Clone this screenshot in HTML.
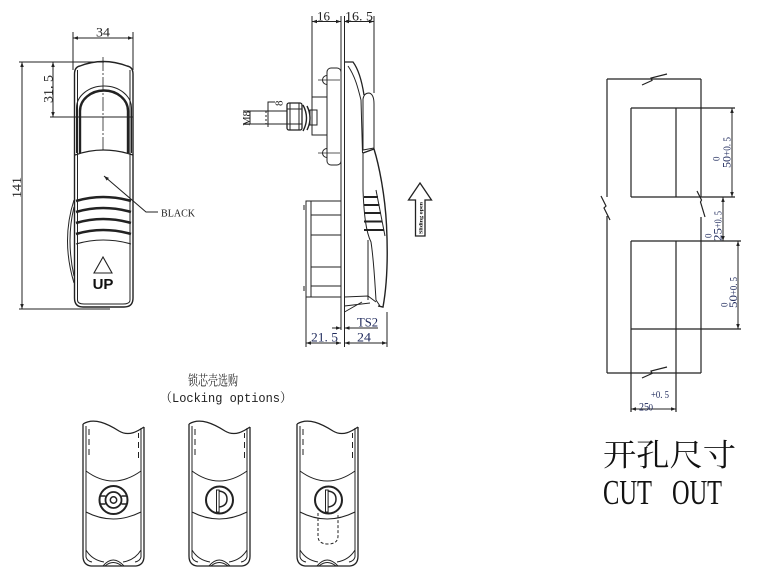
<!DOCTYPE html>
<html><head><meta charset="utf-8"><style>
html,body{margin:0;padding:0;background:#fff;}
svg{display:block;}
text{font-family:"Liberation Serif","Noto Serif CJK SC",serif;}
</style></head><body>
<svg width="758" height="576" viewBox="0 0 758 576" xmlns="http://www.w3.org/2000/svg">
<defs>
<marker id="ar" viewBox="0 0 10 10" refX="10" refY="5" markerWidth="6" markerHeight="5" orient="auto-start-reverse" markerUnits="userSpaceOnUse"><path d="M0,1.5 L10,5 L0,8.5 z" fill="#222"/></marker>
<g id="hd" fill="none" stroke="#222" stroke-width="1">
  <path d="M83,424 L83,556 Q83,565 91,566 L136,566 Q144,565 144,556 L144,427" stroke-width="1.3"/>
  <path d="M86,426 L86,557 Q87,561 92,562 M141,428 L141,557 Q140,561 135,562"/>
  <path d="M83,424 C94,417 108,424 119,431 C129,437 138,431 144,427" stroke-width="1.2"/>
  <path d="M89,429 V435 M89,439 V445 M89,449 V455 M138.5,433 V438 M138.5,442 V448 M138.5,452 V458"/>
  <path d="M86,471 Q113,491 141,471"/>
  <path d="M86,512 Q113,526 141,512"/>
  <path d="M103,566 Q113,554 124,566 M105,566 Q113,559 122,566"/>
  <path d="M86,550 Q92,560 104,562 M141,550 Q135,560 123,562"/>
</g>
</defs>

<!-- ============ FRONT VIEW ============ -->
<g fill="none" stroke="#222" stroke-width="1">
  <line x1="73" y1="32" x2="73" y2="70"/>
  <line x1="133" y1="32" x2="133" y2="70"/>
  <line x1="73" y1="38" x2="133" y2="38" marker-start="url(#ar)" marker-end="url(#ar)"/>
  <line x1="19" y1="62" x2="104" y2="62"/>
  <line x1="19" y1="309" x2="110" y2="309"/>
  <line x1="22" y1="62" x2="22" y2="309" marker-start="url(#ar)" marker-end="url(#ar)"/>
  <line x1="53" y1="62" x2="53" y2="117" marker-start="url(#ar)" marker-end="url(#ar)"/>
  <line x1="50" y1="117" x2="133" y2="117"/>
  <line x1="103" y1="57" x2="103" y2="150" stroke-width="0.8" stroke-dasharray="14,2,2,2"/>

  <path d="M74.5,74 Q74.5,67 80,66 Q103,57 127,66 Q133,67 133,74 L133,298 Q133,307 124,307 L83,307 Q74.5,307 74.5,298 Z" stroke-width="1.4"/>
  <path d="M77.5,70 L77.5,300 Q77.5,304 84,304 L123,304 Q130,304 130,300 L130,70"/>
  <path d="M76.5,153 L76.5,108 A27.5,22 0 0 1 131.5,108 L131.5,153"/>
  <path d="M80,153 L80,111 A24,20.5 0 0 1 128,111 L128,153" stroke-width="2.4"/>
  <path d="M75,155 Q103,145 133,155" stroke-width="1.2"/>
  <path d="M76,201 Q103,193 131,201" stroke-width="2.6"/>
  <path d="M76,212 Q103,204 131,212" stroke-width="2.6"/>
  <path d="M76,223 Q103,215 131,223" stroke-width="2.6"/>
  <path d="M76,234 Q103,226 131,234" stroke-width="2.6"/>
  <path d="M76,244 Q103,236 131,244"/>
  <path d="M74,200 Q61,240 74,283"/>
  <path d="M74,207 Q66,240 74,276"/>
  <polygon points="103,257 94,273 112,273" stroke-width="1.1"/>
  <polyline points="104,176 146,212 158,212" marker-start="url(#ar)"/>
</g>
<text x="96" y="36.5" font-size="13" fill="#222" textLength="14" lengthAdjust="spacingAndGlyphs">34</text>
<text transform="translate(21,198) rotate(-90)" font-size="13" fill="#222" textLength="21" lengthAdjust="spacingAndGlyphs">141</text>
<text transform="translate(52.5,103) rotate(-90)" font-size="13" fill="#222" textLength="28" lengthAdjust="spacingAndGlyphs">31. 5</text>
<text x="161" y="216.5" font-size="11" fill="#222" textLength="34" lengthAdjust="spacingAndGlyphs">BLACK</text>
<text x="103" y="289" font-size="15" font-weight="bold" text-anchor="middle" fill="#111" style="font-family:'Liberation Sans',sans-serif">UP</text>

<!-- ============ SIDE VIEW ============ -->
<g fill="none" stroke="#222" stroke-width="1">
  <line x1="312" y1="16" x2="312" y2="97"/>
  <line x1="374" y1="16" x2="374" y2="93"/>
  <line x1="312" y1="21.5" x2="341" y2="21.5" marker-start="url(#ar)" marker-end="url(#ar)"/>
  <line x1="344" y1="21.5" x2="374" y2="21.5" marker-start="url(#ar)" marker-end="url(#ar)"/>
  <line x1="341" y1="16" x2="341" y2="330"/>
  <line x1="344.5" y1="16" x2="344.5" y2="347"/>
  <!-- boss -->
  <rect x="327" y="68" width="14" height="97" rx="4"/>
  <path d="M327,75.5 A4.5,4.5 0 0 0 327,84.5 M327,148.5 A4.5,4.5 0 0 0 327,157.5"/>
  <line x1="318" y1="80" x2="340" y2="80" stroke-width="0.8"/>
  <line x1="318" y1="153" x2="340" y2="153" stroke-width="0.8"/>
  <!-- stem -->
  <rect x="312" y="97" width="15" height="38"/>
  <rect x="310" y="110" width="7" height="15"/>
  <path d="M303,105 Q310,118 303,131 M307,106 Q313,118 307,130" stroke-width="1.4"/>
  <rect x="287" y="103" width="15" height="27" rx="2" stroke-width="1.3"/>
  <path d="M290,103 V130 M299,103 V130 M287,109 H302 M287,124 H302"/>
  <rect x="250" y="111" width="37" height="13"/>
  <line x1="266" y1="111" x2="266" y2="124" stroke-dasharray="2,2"/>
  <line x1="243" y1="111" x2="250" y2="111"/>
  <line x1="243" y1="124" x2="250" y2="124"/>
  <path d="M268,127 V102 H275"/>
  <!-- upper handle -->
  <path d="M344.5,62 L353,62 C359,70 362,82 364,95" stroke-width="1.3"/>
  <path d="M348,66 C355,76 358,88 361,100 L362.5,153"/>
  <path d="M363,150 L363,99 Q364,93 369,93 Q374,94 374,104 L374,148 Z"/>
  <!-- grip -->
  <path d="M363,153 L374,149 C379,165 385,195 386.5,225 C388,255 387,285 383,307 L378,306" stroke-width="1.4"/>
  <path d="M363,153 L363,190 C364,215 366,232 371,242 C374,262 375,285 376,300 L380,306"/>
  <path d="M368,240 L368,300"/>
  <path d="M364,197 H378 M364,205 H379.5 M364,213 H381 M364,221.5 H382.5 M364,230 H384" stroke-width="2"/>
  <path d="M376,190 L385,236"/>
  <!-- bottom lip -->
  <path d="M344.5,297 L368,296 L376,302 M344.5,306 L370,303 M344.5,312 L362,302"/>
  <!-- lock body -->
  <rect x="306" y="201" width="35" height="96"/>
  <line x1="311" y1="201" x2="311" y2="297"/>
  <path d="M311,215 H341 M311,235 H341 M311,267 H341 M311,286 H341"/>
  <path d="M304,205 V210 M304,286 V291"/>
  <!-- bottom dims -->
  <line x1="306" y1="297" x2="306" y2="347"/>
  <line x1="387" y1="312" x2="387" y2="347"/>
  <line x1="306" y1="343" x2="341" y2="343" marker-start="url(#ar)" marker-end="url(#ar)"/>
  <line x1="344.5" y1="343" x2="387" y2="343" marker-start="url(#ar)" marker-end="url(#ar)"/>
  <line x1="332" y1="328" x2="341" y2="328" marker-end="url(#ar)"/>
  <line x1="378" y1="328" x2="344.5" y2="328" marker-end="url(#ar)"/>
  <!-- sliding arrow -->
  <polygon points="420,183 431.5,200 425,200 425,236 415.5,236 415.5,200 408.5,200" stroke-width="1.3"/>
</g>
<g fill="#1f2a5c" font-size="13">
  <text x="317" y="20.5" textLength="13" lengthAdjust="spacingAndGlyphs" fill="#222">16</text>
  <text x="345" y="20.5" textLength="28" lengthAdjust="spacingAndGlyphs" fill="#222">16. 5</text>
  <text x="311" y="341.5" textLength="27" lengthAdjust="spacingAndGlyphs">21. 5</text>
  <text x="357" y="341.5" textLength="14" lengthAdjust="spacingAndGlyphs">24</text>
  <text x="357" y="326.5" textLength="21" lengthAdjust="spacingAndGlyphs">TS2</text>
</g>
<text transform="translate(250,126) rotate(-90)" font-size="11" fill="#222" textLength="15" lengthAdjust="spacingAndGlyphs">M8</text>
<text transform="translate(282.5,106) rotate(-90)" font-size="11" fill="#222">8</text>
<text transform="translate(422.5,234) rotate(-90)" font-size="5.5" fill="#111" textLength="32" lengthAdjust="spacingAndGlyphs" style="font-weight:bold">Sliding open</text>

<!-- ============ CUT OUT ============ -->
<g fill="none" stroke="#222" stroke-width="1.2">
  <line x1="607" y1="79" x2="701" y2="79"/>
  <line x1="607" y1="373" x2="701" y2="373"/>
  <path d="M642,85 L652,80.5 L651,78 L667,74"/>
  <path d="M642,378 L652,373.5 L651,371 L667,367"/>
  <path d="M607,79 L607,197 M607,216 L607,373"/>
  <path d="M601,196 L606,206 L604,208 L610,220"/>
  <path d="M701,79 L701,197 M701,217 L701,373"/>
  <path d="M697,191 L701.5,200 L700.5,202 L705,217"/>
  <!-- upper box -->
  <path d="M631,108 L735,108 M631,197 L735,197 M631,108 L631,197 M676,108 L676,197"/>
  <!-- lower box -->
  <path d="M631,241 L741,241 M631,329 L741,329 M631,241 L631,412 M676,241 L676,412"/>
</g>
<g fill="none" stroke="#222" stroke-width="1">
  <line x1="732" y1="108" x2="732" y2="197" marker-start="url(#ar)" marker-end="url(#ar)"/>
  <line x1="738" y1="241" x2="738" y2="329" marker-start="url(#ar)" marker-end="url(#ar)"/>
  <line x1="723" y1="197" x2="723" y2="241" marker-start="url(#ar)" marker-end="url(#ar)"/>
  <line x1="631" y1="409" x2="676" y2="409" marker-start="url(#ar)" marker-end="url(#ar)"/>
</g>
<g fill="#1f2a5c">
  <text transform="translate(730.5,168) rotate(-90)" font-size="12" textLength="12" lengthAdjust="spacingAndGlyphs">50</text>
  <text transform="translate(730.5,156) rotate(-90)" font-size="11" textLength="19" lengthAdjust="spacingAndGlyphs">+0. 5</text>
  <text transform="translate(719.5,161) rotate(-90)" font-size="9">0</text>

  <text transform="translate(737,308) rotate(-90)" font-size="12" textLength="13" lengthAdjust="spacingAndGlyphs">50</text>
  <text transform="translate(737,295) rotate(-90)" font-size="11" textLength="18" lengthAdjust="spacingAndGlyphs">+0. 5</text>
  <text transform="translate(727.5,307) rotate(-90)" font-size="9">0</text>

  <text transform="translate(721.5,241) rotate(-90)" font-size="12" textLength="13" lengthAdjust="spacingAndGlyphs">25</text>
  <text transform="translate(721.5,228) rotate(-90)" font-size="11" textLength="17" lengthAdjust="spacingAndGlyphs">+0. 5</text>
  <text transform="translate(711.5,238) rotate(-90)" font-size="9">0</text>

  <text x="639" y="410.5" font-size="12" textLength="10" lengthAdjust="spacingAndGlyphs">25</text>
  <text x="648.5" y="410.5" font-size="9">0</text>
  <text x="651" y="398" font-size="10" textLength="18" lengthAdjust="spacingAndGlyphs">+0. 5</text>
</g>
<text x="603" y="466" font-size="31" fill="#111" textLength="133" lengthAdjust="spacingAndGlyphs" style="font-family:'Liberation Serif','Noto Serif CJK SC',serif">开孔尺寸</text>
<text x="603" y="504" font-size="35" fill="#111" textLength="49" lengthAdjust="spacingAndGlyphs">CUT</text>
<text x="672" y="504" font-size="35" fill="#111" textLength="50" lengthAdjust="spacingAndGlyphs">OUT</text>

<!-- ============ LOCKING OPTIONS ============ -->
<text x="188" y="385.5" font-size="14" fill="#222" textLength="50" lengthAdjust="spacingAndGlyphs" style="font-family:'Liberation Serif','Noto Serif CJK SC',serif">锁芯壳选购</text>
<text x="160" y="402" font-size="13" fill="#222" textLength="132" lengthAdjust="spacingAndGlyphs" style="font-family:'Liberation Mono','Noto Serif CJK SC',monospace">（Locking options）</text>

<use href="#hd"/>
<use href="#hd" x="106"/>
<use href="#hd" x="214"/>

<g fill="none" stroke="#222">
  <!-- lock 1 -->
  <circle cx="113.5" cy="500" r="14" stroke-width="2"/>
  <path d="M99.5,496 H105.5 M121.5,496 H127.5 M99.5,504 H105.5 M121.5,504 H127.5" stroke-width="1.5"/>
  <circle cx="113.5" cy="500" r="8" stroke-width="1.8"/>
  <circle cx="113.5" cy="500" r="3.2" stroke-width="1.5"/>
  <!-- lock 2 -->
  <circle cx="219.5" cy="500" r="13.5" stroke-width="2"/>
  <rect x="216.5" y="490" width="2.6" height="22" stroke-width="1"/>
  <path d="M219.1,491 Q227,492 227,499 Q227,506 219.1,507" stroke-width="1.5"/>
  <!-- lock 3 -->
  <path d="M318,513 L318,536 Q318,544 328,544 Q338,544 338,536 L338,513" stroke-width="1" stroke-dasharray="3,2"/>
  <circle cx="328.5" cy="500" r="13.5" stroke-width="2" fill="#fff"/>
  <rect x="325.5" y="490" width="2.6" height="22" stroke-width="1" fill="#fff"/>
  <path d="M328.1,491 Q336,492 336,499 Q336,506 328.1,507" stroke-width="1.5"/>
</g>
</svg>
</body></html>
